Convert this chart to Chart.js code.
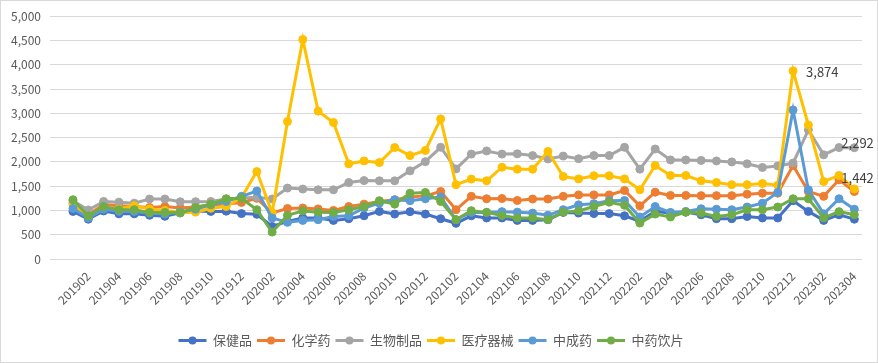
<!DOCTYPE html>
<html>
<head>
<meta charset="utf-8">
<script src="https://cdn.jsdelivr.net/npm/chart.js@4/dist/chart.umd.min.js"></script>
<style>
  body { margin: 0; background: #fff; }
  #grafico { display: block; }
</style>
</head>
<body>
<canvas id="grafico" width="878" height="363"></canvas>
<script>
// meses (eje x)
const meses = [
  '201901','201902','201903','201904','201905','201906','201907','201908','201909','201910','201911','201912',
  '202001','202002','202003','202004','202005','202006','202007','202008','202009','202010','202011','202012',
  '202101','202102','202103','202104','202105','202106','202107','202108','202109','202110','202111','202112',
  '202201','202202','202203','202204','202205','202206','202207','202208','202209','202210','202211','202212',
  '202301','202302','202303','202304'
]

const nombresSeries = ['保健品', '化学药', '生物制品', '医疗器械', '中成药', '中药饮片']
const coloresSeries = ['#4472C4', '#ED7D31', '#A5A5A5', '#FFC000', '#5B9BD5', '#70AD47']

const baojianpin = [980, 820, 990, 930, 930, 900, 880, 950, 990, 980, 985, 935,
  920, 670, 775, 845, 845, 795, 830, 890, 980, 925, 975, 925,
  830, 735, 890, 845, 845, 795, 795, 810, 960, 945, 935, 935,
  890, 775, 980, 945, 965, 910, 830, 830, 875, 845, 845, 1200,
  980, 795, 910, 820]
const huaxueyao = [1150, 910, 1120, 1095, 1080, 1060, 1080, 1050, 1070, 1115, 1130, 1165,
  1250, 950, 1040, 1050, 1030, 1000, 1080, 1130, 1185, 1220, 1275, 1300,
  1390, 1015, 1290, 1240, 1245, 1205, 1235, 1235, 1290, 1320, 1320, 1320,
  1410, 1095, 1375, 1310, 1310, 1305, 1305, 1305, 1335, 1355, 1355, 1925,
  1390, 1290, 1630, 1390]
const shengwu = [1200, 1010, 1185, 1170, 1150, 1235, 1235, 1180, 1180, 1185, 1235, 1255,
  1270, 1235, 1460, 1440, 1425, 1425, 1575, 1615, 1610, 1610, 1815, 2005,
  2300, 1855, 2160, 2225, 2160, 2165, 2130, 2060, 2120, 2065, 2130, 2130,
  2300, 1850, 2265, 2040, 2040, 2030, 2020, 2000, 1960, 1885, 1915, 1975,
  2660, 2145, 2295, 2292]
const yiliao = [1110, 880, 1050, 1030, 1095, 1030, 1000, 960, 965, 1045, 1080, 1265,
  1800, 950, 2830, 4520, 3045, 2810, 1960, 2020, 1985, 2295, 2130, 2235,
  2885, 1530, 1645, 1610, 1890, 1850, 1850, 2215, 1700, 1650, 1715, 1715,
  1650, 1425, 1925, 1720, 1720, 1610, 1575, 1530, 1530, 1555, 1520, 3874,
  2760, 1595, 1720, 1442]
const zhongchengyao = [1040, 845, 1025, 980, 980, 945, 925, 965, 1025, 1115, 1185, 1290,
  1400, 845, 755, 795, 810, 875, 890, 1050, 1150, 1220, 1200, 1240,
  1275, 810, 960, 960, 975, 965, 945, 900, 1015, 1115, 1140, 1200,
  1205, 865, 1080, 960, 980, 1035, 1025, 1015, 1070, 1150, 1370, 3070,
  1425, 930, 1240, 1025]
const yinpian = [1220, 890, 1080, 1015, 1015, 960, 960, 950, 1060, 1130, 1240, 1250,
  1015, 555, 900, 990, 965, 960, 1015, 1080, 1200, 1130, 1355, 1370,
  1185, 810, 995, 960, 895, 845, 845, 810, 965, 990, 1080, 1170,
  1105, 740, 925, 865, 965, 945, 875, 910, 1015, 1015, 1070, 1240,
  1240, 845, 975, 910]

const series = [baojianpin, huaxueyao, shengwu, yiliao, zhongchengyao, yinpian]

// etiquetas de valor: [serie, mes]
const etiquetas = [[3, '202212'], [2, '202304'], [3, '202304']]
const desplazamientos = [[13, 1], [-13, -5], [-13, -11]]

Chart.defaults.font.family = '"Noto Sans CJK SC", "Noto Sans", sans-serif'
Chart.defaults.color = '#595959'

// primera categoria vacia, como en el original
const categorias = [''].concat(meses)

const datasets = series.map((valores, i) => ({
  label: nombresSeries[i],
  data: [null].concat(valores),
  borderColor: coloresSeries[i],
  backgroundColor: coloresSeries[i],
  borderWidth: 3,
  pointRadius: 4,
  pointBorderWidth: 1,
  pointBackgroundColor: coloresSeries[i],
  tension: 0,
  order: series.length - i
}))

const fondo = {
  id: 'fondo',
  beforeDraw(chart) {
    const c = chart.ctx
    c.save()
    c.fillStyle = '#fff'
    c.fillRect(0, 0, chart.width, chart.height)
    c.strokeStyle = '#d9d9d9'
    c.lineWidth = 1
    c.strokeRect(0.5, 0.5, chart.width - 1, chart.height - 1)
    c.restore()
  }
}

const marcadoresLeyenda = {
  id: 'marcadoresLeyenda',
  afterDraw(chart) {
    const leyenda = chart.legend
    if (!leyenda || !leyenda.legendHitBoxes) return
    const c = chart.ctx
    const anchoCaja = leyenda.options.labels.boxWidth
    leyenda.legendHitBoxes.forEach((caja, i) => {
      const item = leyenda.legendItems[i]
      c.save()
      c.fillStyle = coloresSeries[item.datasetIndex]
      c.beginPath()
      c.arc(caja.left + anchoCaja / 2, caja.top + caja.height / 2, 4, 0, Math.PI * 2)
      c.fill()
      c.restore()
    })
  }
}

const valoresTexto = {
  id: 'valoresTexto',
  afterDatasetsDraw(chart) {
    const c = chart.ctx
    c.save()
    c.font = '13px "Noto Sans CJK SC", "Noto Sans", sans-serif'
    c.fillStyle = '#404040'
    c.textAlign = 'left'
    c.textBaseline = 'middle'
    etiquetas.forEach(([s, mes], k) => {
      const idx = categorias.indexOf(mes)
      const punto = chart.getDatasetMeta(s).data[idx]
      const valor = chart.data.datasets[s].data[idx]
      c.fillText(valor.toLocaleString('en-US'), punto.x + desplazamientos[k][0], punto.y + desplazamientos[k][1])
    })
    c.restore()
  }
}

const grafico = new Chart(document.getElementById('grafico'), {
  type: 'line',
  data: { labels: categorias, datasets: datasets },
  options: {
    responsive: false,
    animation: false,
    layout: { padding: { top: 16, right: 16, bottom: 6, left: 0 } },
    plugins: {
      tooltip: { enabled: false },
      legend: {
        position: 'bottom',
        labels: {
          boxWidth: 28,
          boxHeight: 3,
          padding: 5,
          font: { size: 13 },
          color: '#595959',
          sort: (a, b) => a.datasetIndex - b.datasetIndex,
          generateLabels: (chart) => Chart.defaults.plugins.legend.labels.generateLabels(chart)
            .map(l => ({ ...l, lineWidth: 0, fillStyle: coloresSeries[l.datasetIndex] }))
        }
      }
    },
    scales: {
      x: {
        offset: true,
        grid: { display: false, offset: true },
        border: { display: false },
        afterFit(escala) { escala.height = 70 },
        ticks: {
          autoSkip: false,
          maxRotation: 45,
          minRotation: 45,
          padding: 2,
          font: { size: 12 },
          color: '#595959',
          callback: function (v, i) { return i % 2 === 0 ? this.getLabelForValue(v) : '' }
        }
      },
      y: {
        min: 0,
        max: 5000,
        afterFit(escala) { escala.width = 50 },
        grid: { color: '#d9d9d9', drawTicks: false },
        border: { display: false },
        ticks: {
          stepSize: 500,
          padding: 9,
          font: { size: 12 },
          color: '#595959',
          callback: (v) => v.toLocaleString('en-US')
        }
      }
    }
  },
  plugins: [fondo, marcadoresLeyenda, valoresTexto]
})
</script>
</body>
</html>
